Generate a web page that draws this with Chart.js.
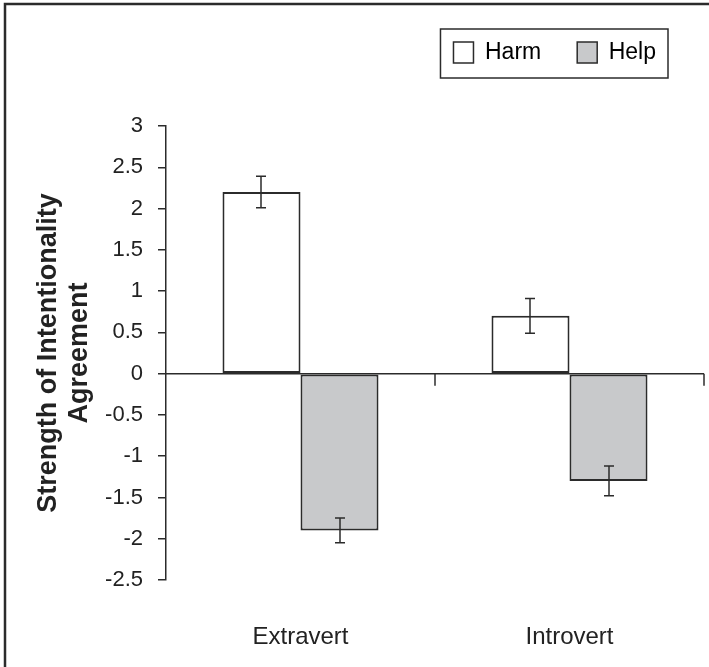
<!DOCTYPE html>
<html>
<head>
<meta charset="utf-8">
<script src="https://cdn.jsdelivr.net/npm/chart.js@4"></script>
<style>
  body { margin: 0; background: #fff; }
  #wrap { width: 709px; height: 667px; }
</style>
</head>
<body>
<div id="wrap"><canvas id="bar-chart" width="709" height="667"></canvas></div>
<script>
const categories = ['Extravert', 'Introvert'];
const harmValues = [2.2, 0.7];
const helpValues = [-1.9, -1.3];
const harmErrors = [0.19, 0.21];
const helpErrors = [0.15, 0.18];
const yTicks = { min: -2.5, max: 3, step: 0.5 };

const ink = '#2b2b2b';
const FONT = "'Liberation Sans', Arial, sans-serif";
const LEGEND_PAD = 36;

// frame, zero line, category ticks, error bars, legend box
const extras = {
  id: 'extras',
  afterLayout(chart) {
    // nudge the legend a bit left of the plot's right edge
    chart.legend.left -= 12;
    chart.legend.right -= 12;
  },
  afterDraw(chart) {
    const ctx = chart.ctx;
    const x = chart.scales.x;
    const y = chart.scales.y;
    const area = chart.chartArea;
    const zero = y.getPixelForValue(0);
    ctx.save();
    ctx.strokeStyle = ink;

    // outer frame (left + top only)
    ctx.lineWidth = 2.5;
    ctx.beginPath();
    ctx.moveTo(5, 667);
    ctx.lineTo(5, 4);
    ctx.lineTo(709, 4);
    ctx.stroke();

    // zero line
    ctx.lineWidth = 1.5;
    ctx.beginPath();
    ctx.moveTo(area.left, zero);
    ctx.lineTo(area.right, zero);
    ctx.stroke();

    // category boundary ticks
    const half = (x.getPixelForValue(1) - x.getPixelForValue(0)) / 2;
    categories.forEach((c, i) => {
      const px = Math.round(x.getPixelForValue(i) + half);
      ctx.beginPath();
      ctx.moveTo(px, zero);
      ctx.lineTo(px, zero + 12);
      ctx.stroke();
    });

    // error bars
    const errs = [harmErrors, helpErrors];
    chart.data.datasets.forEach((ds, di) => {
      const meta = chart.getDatasetMeta(di);
      meta.data.forEach((bar, i) => {
        const v = ds.data[i];
        const e = errs[di][i];
        const top = y.getPixelForValue(v + e);
        const bot = y.getPixelForValue(v - e);
        const bx = Math.round(bar.x);
        ctx.lineWidth = 1.5;
        ctx.beginPath();
        ctx.moveTo(bx, top);
        ctx.lineTo(bx, bot);
        ctx.moveTo(bx - 5, top);
        ctx.lineTo(bx + 5, top);
        ctx.moveTo(bx - 5, bot);
        ctx.lineTo(bx + 5, bot);
        ctx.stroke();
      });
    });

    // legend border
    const lg = chart.legend;
    if (lg && lg.lineWidths) {
      const itemsLeft = lg.right - lg.lineWidths[0];
      const itemsRight = lg.right - LEGEND_PAD;
      const itemTop = lg.top + LEGEND_PAD;
      ctx.lineWidth = 1.5;
      ctx.strokeRect(itemsLeft - 13, itemTop - 12, itemsRight - itemsLeft + 25, 49);
    }
    ctx.restore();
  }
};

new Chart(document.getElementById('bar-chart'), {
  type: 'bar',
  data: {
    labels: categories,
    datasets: [
      {
        label: 'Harm',
        data: harmValues,
        backgroundColor: '#ffffff',
        borderColor: ink,
        borderWidth: 2,
        borderSkipped: false,
        categoryPercentage: 0.58,
        barPercentage: 1.0
      },
      {
        label: 'Help',
        data: helpValues,
        backgroundColor: '#c8c9cb',
        borderColor: ink,
        borderWidth: 2,
        borderSkipped: false,
        categoryPercentage: 0.58,
        barPercentage: 1.0
      }
    ]
  },
  options: {
    responsive: false,
    animation: false,
    devicePixelRatio: 1,
    layout: { padding: { top: 5, right: 5, bottom: 0, left: 0 } },
    plugins: {
      tooltip: { enabled: false },
      legend: {
        position: 'top',
        align: 'end',
        labels: {
          color: '#222',
          font: { family: FONT, size: 23 },
          boxWidth: 20,
          boxHeight: 21,
          padding: LEGEND_PAD,
          generateLabels(chart) {
            return chart.data.datasets.map((ds, i) => ({
              text: ds.label,
              fillStyle: ds.backgroundColor,
              strokeStyle: ink,
              lineWidth: 1.5,
              datasetIndex: i
            }));
          }
        }
      }
    },
    scales: {
      x: {
        grid: { display: false },
        border: { display: false },
        ticks: {
          color: '#222',
          font: { family: FONT, size: 24 },
          padding: 35
        },
        afterFit(scale) { scale.height = 87; }
      },
      // empty band between legend and plot
      gap: {
        type: 'category',
        position: 'top',
        grid: { display: false },
        border: { display: false },
        ticks: { display: false },
        afterFit(scale) { scale.height = 52; }
      },
      y: {
        min: yTicks.min,
        max: yTicks.max,
        afterFit(scale) { scale.width = 166; },
        ticks: {
          stepSize: yTicks.step,
          color: '#222',
          font: { family: FONT, size: 22 },
          padding: 15,
          callback: (v) => String(Number(v.toFixed(1)))
        },
        grid: {
          drawOnChartArea: false,
          drawTicks: true,
          tickLength: 8,
          color: ink,
          lineWidth: 1.5
        },
        border: { display: true, color: ink, width: 1.5 },
        title: {
          display: true,
          text: ['Strength of Intentionality', 'Agreement'],
          color: '#222',
          font: { family: FONT, size: 27, weight: 'bold', lineHeight: 1.15 },
          padding: { top: 33, bottom: 0 }
        }
      }
    }
  },
  plugins: [extras]
});
</script>
</body>
</html>
